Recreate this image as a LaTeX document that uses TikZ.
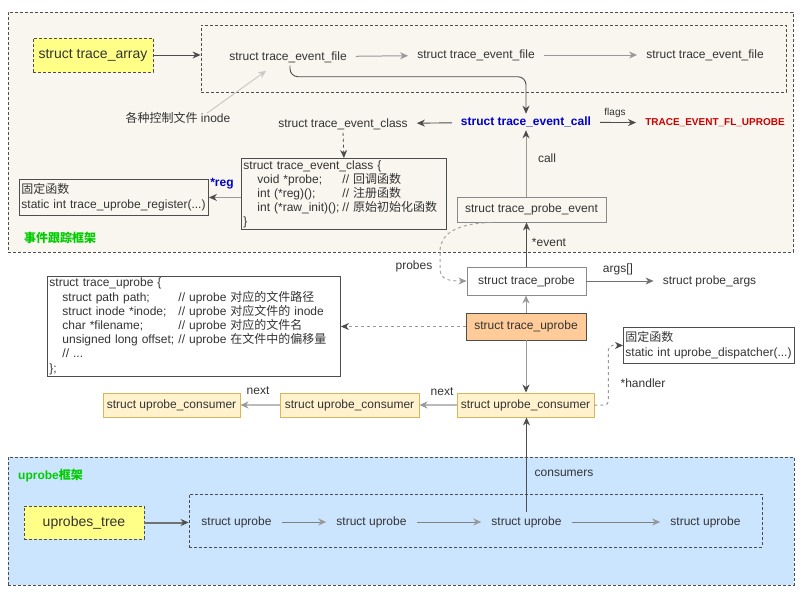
\documentclass[tikz,border=0pt]{standalone}
\usepackage{fontspec}
\setmainfont{Liberation Sans}
\newfontfamily\cjk{Noto Sans CJK SC}
\usetikzlibrary{arrows.meta}

\definecolor{ink}{HTML}{333333}
\definecolor{edge}{HTML}{4D4D4D}
\definecolor{midgray}{HTML}{999999}
\definecolor{lightgray}{HTML}{BBBBBB}
\definecolor{topbg}{HTML}{F8F6EE}
\definecolor{botbg}{HTML}{CCE5FF}
\definecolor{hiyellow}{HTML}{FFFF88}
\definecolor{orangefill}{HTML}{FFCC99}
\definecolor{consfill}{HTML}{FFF2CC}
\definecolor{consedge}{HTML}{D6B656}
\definecolor{callblue}{HTML}{0000CC}
\definecolor{flagred}{HTML}{CC0000}
\definecolor{grouptitle}{HTML}{00CC00}

\tikzset{
  frame/.style={draw=edge, dash pattern=on 3pt off 2pt, line width=0.8pt, inner sep=0pt},
  txt/.style={inner xsep=9pt, inner ysep=3pt},
  plainbox/.style={draw=edge, line width=0.9pt, inner sep=0pt},
  graybox/.style={draw=midgray!90!black, line width=0.9pt, fill=white, inner sep=0pt},
  consbox/.style={draw=consedge, line width=0.9pt, fill=consfill, inner sep=0pt,
                  minimum height=24pt},
  codebox/.style={draw=edge, line width=0.9pt, align=left, inner xsep=2pt, inner ysep=1pt,
                  anchor=north west},
  tip/.style={-{Stealth[length=8pt,width=7pt,inset=2.5pt,color=#1]}},
  darkarr/.style={draw=edge, line width=0.9pt, tip=edge},
  grayarr/.style={draw=midgray, line width=1pt, tip=midgray},
  mixarr/.style={draw=midgray, line width=1pt, tip=edge},
  nextarr/.style={draw=lightgray, line width=2pt, tip=midgray},
  dasharr/.style={draw=midgray, line width=1pt, dash pattern=on 3pt off 3pt, tip=edge},
  lbl/.style={inner sep=1pt},
}

\begin{document}
\begin{tikzpicture}[x=1pt, y=-1pt, font=\fontsize{12}{14}\selectfont, text=ink]
\useasboundingbox (0,0) rectangle (807,597);

% ---------------- event tracing framework ----------------
\node[frame, fill=topbg, minimum width=785pt, minimum height=240pt] (evtframe) at (400.5,132) {};
\node[frame, minimum width=585pt, minimum height=67pt] (tefgroup) at (493.5,58.5) {};

\node[frame, fill=hiyellow, minimum width=120pt, minimum height=34pt,
      font=\fontsize{14}{16}\selectfont] (tarray) at (93,55) {struct trace\_array};

\node[txt] (tef1) at (288,57) {struct trace\_event\_file};
\node[txt] (tef2) at (476,55) {struct trace\_event\_file};
\node[txt] (tef3) at (705,55) {struct trace\_event\_file};

\node[txt] (inode) at (178,118) {{\cjk 各种控制文件} inode};

\node[txt, text=callblue, font=\fontsize{12}{14}\selectfont\bfseries] (tec) at (526,122) {struct trace\_event\_call};
\node[txt] (tecls) at (343,124) {struct trace\_event\_class};
\node[txt, text=flagred, font=\fontsize{10}{12}\selectfont\bfseries] (flag) at (715,123) {TRACE\_EVENT\_FL\_UPROBE};
\node[lbl, font=\fontsize{10}{12}\selectfont] (flagslbl) at (615,113) {flags};

\node[codebox, text width=201pt, minimum height=71pt] (clsbox) at (241,158) {%
struct trace\_event\_class \{\\
\hspace*{14pt}\makebox[85pt][l]{void *probe;}// {\cjk 回调函数}\\
\hspace*{14pt}\makebox[85pt][l]{int (*reg)();}// {\cjk 注册函数}\\
\hspace*{14pt}\makebox[85pt][l]{int (*raw\_init)();}// {\cjk 原始初始化函数}\\
\}};

\node[codebox, text width=185pt, minimum height=36pt, inner ysep=2pt,
      font=\fontsize{12}{15}\selectfont] (fixreg) at (19,179) {%
{\cjk 固定函数}\\
static int trace\_uprobe\_register(...)};
\node[lbl, text=callblue, font=\fontsize{12}{14}\selectfont\bfseries] (reglbl) at (222,184) {*reg};

\node[lbl, text=grouptitle, font=\fontsize{12}{14}\selectfont\cjk\bfseries] (evttitle) at (60,238) {事件跟踪框架};

\node[graybox, minimum width=149pt, minimum height=25pt, fill=none] (tpe) at (531.5,209.5) {struct trace\_probe\_event};
\node[lbl] (calllbl) at (547,158) {call};

% ---------------- probe / uprobe objects ----------------
\node[graybox, minimum width=119pt, minimum height=28pt] (tp) at (526.5,281) {struct trace\_probe};
\node[lbl] (eventlbl) at (549,242) {*event};
\node[lbl] (probeslbl) at (414,266) {probes};
\node[txt] (pargs) at (709.5,281) {struct probe\_args};
\node[lbl] (argslbl) at (618,269) {args[]};

\node[plainbox, fill=orangefill, minimum width=120pt, minimum height=27pt] (tu) at (526,326.5) {struct trace\_uprobe};

\node[codebox, text width=289pt, minimum height=100pt, font=\fontsize{12}{14.2}\selectfont] (tubox) at (47,276) {%
struct trace\_uprobe \{\\
\hspace*{13pt}\makebox[116pt][l]{struct path path;}// uprobe {\cjk 对应的文件路径}\\
\hspace*{13pt}\makebox[116pt][l]{struct inode *inode;}// uprobe {\cjk 对应文件的} inode\\
\hspace*{13pt}\makebox[116pt][l]{char *filename;}// uprobe {\cjk 对应的文件名}\\
\hspace*{13pt}\makebox[116pt][l]{unsigned long offset;}// uprobe {\cjk 在文件中的偏移量}\\
\hspace*{13pt}// ...\\
\};};

\node[codebox, text width=167pt, minimum height=36pt, inner ysep=2pt,
      font=\fontsize{12}{15}\selectfont] (fixdisp) at (623,327) {%
{\cjk 固定函数}\\
static int uprobe\_dispatcher(...)};
\node[lbl] (handlerlbl) at (643,383) {*handler};

\node[consbox, minimum width=137pt] (uc1) at (525.5,405) {struct uprobe\_consumer};
\node[consbox, minimum width=139pt] (uc2) at (349.5,405) {struct uprobe\_consumer};
\node[consbox, minimum width=137pt] (uc3) at (171.5,405) {struct uprobe\_consumer};
\node[lbl] (next1) at (442,392) {next};
\node[lbl] (next2) at (258,391) {next};

% ---------------- uprobe framework ----------------
\node[frame, fill=botbg, minimum width=786pt, minimum height=128pt] (upframe) at (401,521) {};
\node[lbl, text=grouptitle, font=\fontsize{12}{14}\selectfont\bfseries, anchor=west] (uptitle) at (17,476) {uprobe{\cjk 框架}};
\node[frame, minimum width=573pt, minimum height=53pt] (upgroup) at (475.5,520.5) {};
\node[frame, fill=hiyellow, minimum width=120pt, minimum height=33pt,
      font=\fontsize{14}{16}\selectfont] (utree) at (84,522.5) {uprobes\_tree};

\node[txt, inner xsep=10pt, inner ysep=4pt] (up1) at (236.5,522) {struct uprobe};
\node[txt, inner xsep=10pt, inner ysep=4pt] (up2) at (371.5,522) {struct uprobe};
\node[txt, inner xsep=10pt, inner ysep=4pt] (up3) at (526.5,522) {struct uprobe};
\node[txt, inner xsep=10pt, inner ysep=4pt] (up4) at (705.5,522) {struct uprobe};
\node[lbl] (conslbl) at (564,473) {consumers};

% ---------------- connectors ----------------
\draw[darkarr] (tarray.east) -- (tarray.east -| tefgroup.west);
\draw[grayarr] (tef1) -- (tef2);
\draw[grayarr] (tef2) -- (tef3);
\draw[darkarr, rounded corners=8pt] ([xshift=2pt]tef1.south) -- ++(0,11) -| (tec.north);
\draw[draw=lightgray!80, line width=1pt, tip=lightgray!80] ([xshift=29pt,yshift=-4pt]inode.north) -- ([xshift=46pt,yshift=-5pt]tef1.south west);
\draw[darkarr] (tec) -- (tecls);
\draw[darkarr] (tec) -- (flag);
\draw[darkarr, dash pattern=on 3pt off 3pt] (tecls.south) -- (clsbox.north);
\draw[mixarr] (clsbox.west |- fixreg.east) -- (fixreg.east);
\draw[mixarr] (tpe.north -| tec.south) -- (tec.south);
\draw[darkarr] (tp.north) -- (tp.north |- tpe.south);
\draw[draw=midgray!90, line width=1pt, dash pattern=on 3pt off 3pt, tip=midgray]
  ([xshift=-41pt]tpe.south) .. controls (452,224) and (440,236) .. (440,252)
  -- (440,268) .. controls (440,279) and (447,281) .. (tp.west);
\draw[draw=edge!80, line width=1pt, tip=edge!80] (tp) -- (pargs);
\draw[grayarr] (tu.north) -- (tu.north |- tp.south);
\draw[dasharr] (tu.west) -- (tu.west -| tubox.east);
\draw[mixarr] (tu.south) -- (tu.south |- uc1.north);
\draw[dasharr, rounded corners=4pt] (uc1.east) -- ++(14,0) |- (fixdisp.west);
\draw[nextarr] (uc1) -- (uc2);
\draw[nextarr] (uc2) -- (uc3);
\draw[draw=edge!80, line width=2pt, tip=edge] (utree.east) -- (utree.east -| upgroup.west);
\draw[grayarr, draw=gray] (up1) -- (up2);
\draw[grayarr, draw=gray] (up2) -- (up3);
\draw[grayarr, draw=gray] (up3) -- (up4);
\draw[darkarr] (up3.north) -- (up3.north |- uc1.south);
\end{tikzpicture}
\end{document}
